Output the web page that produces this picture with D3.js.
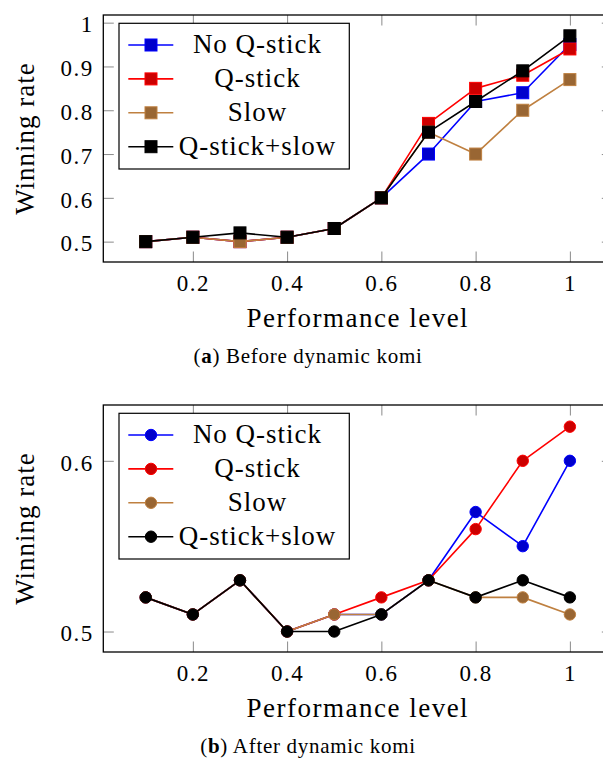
<!DOCTYPE html>
<html><head><meta charset="utf-8">
<script src="https://cdn.jsdelivr.net/npm/d3@7"></script>
<style>
body{margin:0;background:#fff}
svg{display:block}
text{font-family:"Liberation Serif","Times New Roman",serif;fill:#000}
</style>
</head><body>
<svg id="chart" width="603" height="767"></svg>
<script>
// ---------- data ----------
const levels = [0.1, 0.2, 0.3, 0.4, 0.5, 0.6, 0.7, 0.8, 0.9, 1.0];
const xTickValues = [0.2, 0.4, 0.6, 0.8, 1];
const seriesNames = ["No Q-stick", "Q-stick", "Slow", "Q-stick+slow"];
const lineColors = ["#0000ff", "#ff0000", "#bf8040", "#000000"];
const markFills  = ["#0000cc", "#cc0000", "#996633", "#000000"];

// (a) Before dynamic komi
const beforeNoQstick   = [0.50, 0.51, 0.50, 0.51, 0.53, 0.60, 0.70, 0.82, 0.84, 0.95];
const beforeQstick     = [0.50, 0.51, 0.50, 0.51, 0.53, 0.60, 0.77, 0.85, 0.88, 0.94];
const beforeSlow       = [0.50, 0.51, 0.50, 0.51, 0.53, 0.60, 0.75, 0.70, 0.80, 0.87];
const beforeQstickSlow = [0.50, 0.51, 0.52, 0.51, 0.53, 0.60, 0.75, 0.82, 0.89, 0.97];
const beforeYTicks = [0.5, 0.6, 0.7, 0.8, 0.9, 1];

// (b) After dynamic komi
const afterNoQstick   = [0.52, 0.51, 0.53, 0.50, 0.51, 0.51, 0.53, 0.57, 0.55, 0.60];
const afterQstick     = [0.52, 0.51, 0.53, 0.50, 0.51, 0.52, 0.53, 0.56, 0.60, 0.62];
const afterSlow       = [0.52, 0.51, 0.53, 0.50, 0.51, 0.51, 0.53, 0.52, 0.52, 0.51];
const afterQstickSlow = [0.52, 0.51, 0.53, 0.50, 0.50, 0.51, 0.53, 0.52, 0.53, 0.52];
const afterYTicks = [0.5, 0.6];

const xLabel = "Performance level";
const yLabel = "Winning rate";

// ---------- drawing ----------
const svg = d3.select("#chart");
const fmt = d => String(+(+d).toFixed(2));

function drawPanel(opt) {
  const L = 103.3, R = 612.3, T = opt.top, B = opt.top + 247;
  const x = d3.scaleLinear().domain([0.01, 1.09]).range([L, R]);
  const y = d3.scaleLinear().domain(opt.yDomain).range([B, T]);
  const g = svg.append("g");

  // ticks (inside, all four sides)
  const tickStyle = sel => {
    sel.select(".domain").remove();
    sel.selectAll(".tick line").attr("stroke", "#8a8a8a").attr("stroke-width", 1);
  };
  g.append("g").attr("transform", `translate(0,${B})`)
    .call(d3.axisBottom(x).tickValues(xTickValues).tickSizeInner(-10.5).tickSizeOuter(0).tickFormat(fmt))
    .call(tickStyle)
    .call(s => s.selectAll("text").attr("y", 28.7).attr("dy", 0)
      .style("font-size", "23px").style("letter-spacing", "1.5px"));
  g.append("g").attr("transform", `translate(0,${T})`)
    .call(d3.axisTop(x).tickValues(xTickValues).tickSizeInner(-10.5).tickSizeOuter(0).tickFormat(""))
    .call(tickStyle);
  g.append("g").attr("transform", `translate(${L},0)`)
    .call(d3.axisLeft(y).tickValues(opt.yTicks).tickSizeInner(-10.5).tickSizeOuter(0).tickPadding(9.5).tickFormat(fmt))
    .call(tickStyle)
    .call(s => s.selectAll("text").attr("dy", "0.4em")
      .style("font-size", "23px").style("letter-spacing", "1.5px"));
  g.append("g").attr("transform", `translate(${R},0)`)
    .call(d3.axisRight(y).tickValues(opt.yTicks).tickSizeInner(-10.5).tickSizeOuter(0).tickFormat(""))
    .call(tickStyle);

  // series
  const line = d3.line().x((d, i) => x(levels[i])).y(d => y(d));
  opt.series.forEach((vals, k) => {
    g.append("path").datum(vals).attr("d", line)
      .attr("fill", "none").attr("stroke", lineColors[k]).attr("stroke-width", 1.6)
      .attr("stroke-linejoin", "round");
    const m = g.append("g");
    vals.forEach((v, i) => drawMarker(m, opt.marker, x(levels[i]), y(v), k));
  });

  // frame
  g.append("rect").attr("x", L).attr("y", T).attr("width", R - L).attr("height", B - T)
    .attr("fill", "none").attr("stroke", "#000").attr("stroke-width", 1.3);

  // axis labels
  g.append("text").attr("x", (L + R) / 2).attr("y", B + 64.7).attr("text-anchor", "middle")
    .style("font-size", "27px").style("letter-spacing", "1.5px").text(xLabel);
  g.append("text").attr("transform", `translate(33.5,${(T + B) / 2}) rotate(-90)`)
    .attr("text-anchor", "middle").style("font-size", "27px").style("letter-spacing", "1px").text(yLabel);

  // legend
  const lg = g.append("g").attr("transform", `translate(119,${T + 8.3})`);
  lg.append("rect").attr("width", 230.3).attr("height", 145.7)
    .attr("fill", "#fff").attr("stroke", "#000").attr("stroke-width", 1.2);
  seriesNames.forEach((name, k) => {
    const ey = 21.7 + k * 33.9;
    lg.append("line").attr("x1", 9.3).attr("x2", 54.3).attr("y1", ey).attr("y2", ey)
      .attr("stroke", lineColors[k]).attr("stroke-width", 1.6);
    drawMarker(lg, opt.marker, 32, ey, k);
    lg.append("text").attr("x", 138.5).attr("y", ey + 8.3).attr("text-anchor", "middle")
      .style("font-size", "27px").style("letter-spacing", "1px").text(name);
  });

  // caption
  const cap = g.append("text").attr("x", 308).attr("y", opt.captionY).attr("text-anchor", "middle")
    .style("font-size", "21px").style("letter-spacing", "0.7px");
  cap.append("tspan").text("(");
  cap.append("tspan").style("font-weight", "bold").text(opt.captionTag);
  cap.append("tspan").text(") " + opt.caption);
}

function drawMarker(sel, type, cx, cy, k) {
  if (type === "square") {
    sel.append("rect").attr("x", cx - 6).attr("y", cy - 6).attr("width", 12).attr("height", 12)
      .attr("fill", markFills[k]).attr("stroke", lineColors[k]).attr("stroke-width", 1);
  } else {
    sel.append("circle").attr("cx", cx).attr("cy", cy).attr("r", 5.7)
      .attr("fill", markFills[k]).attr("stroke", lineColors[k]).attr("stroke-width", 1);
  }
}

drawPanel({
  top: 15, yDomain: [0.4535, 1.0175], yTicks: beforeYTicks,
  series: [beforeNoQstick, beforeQstick, beforeSlow, beforeQstickSlow],
  marker: "square", captionTag: "a", caption: "Before dynamic komi", captionY: 363
});
drawPanel({
  top: 405, yDomain: [0.488, 0.6327], yTicks: afterYTicks,
  series: [afterNoQstick, afterQstick, afterSlow, afterQstickSlow],
  marker: "circle", captionTag: "b", caption: "After dynamic komi", captionY: 753
});
</script>
</body></html>
